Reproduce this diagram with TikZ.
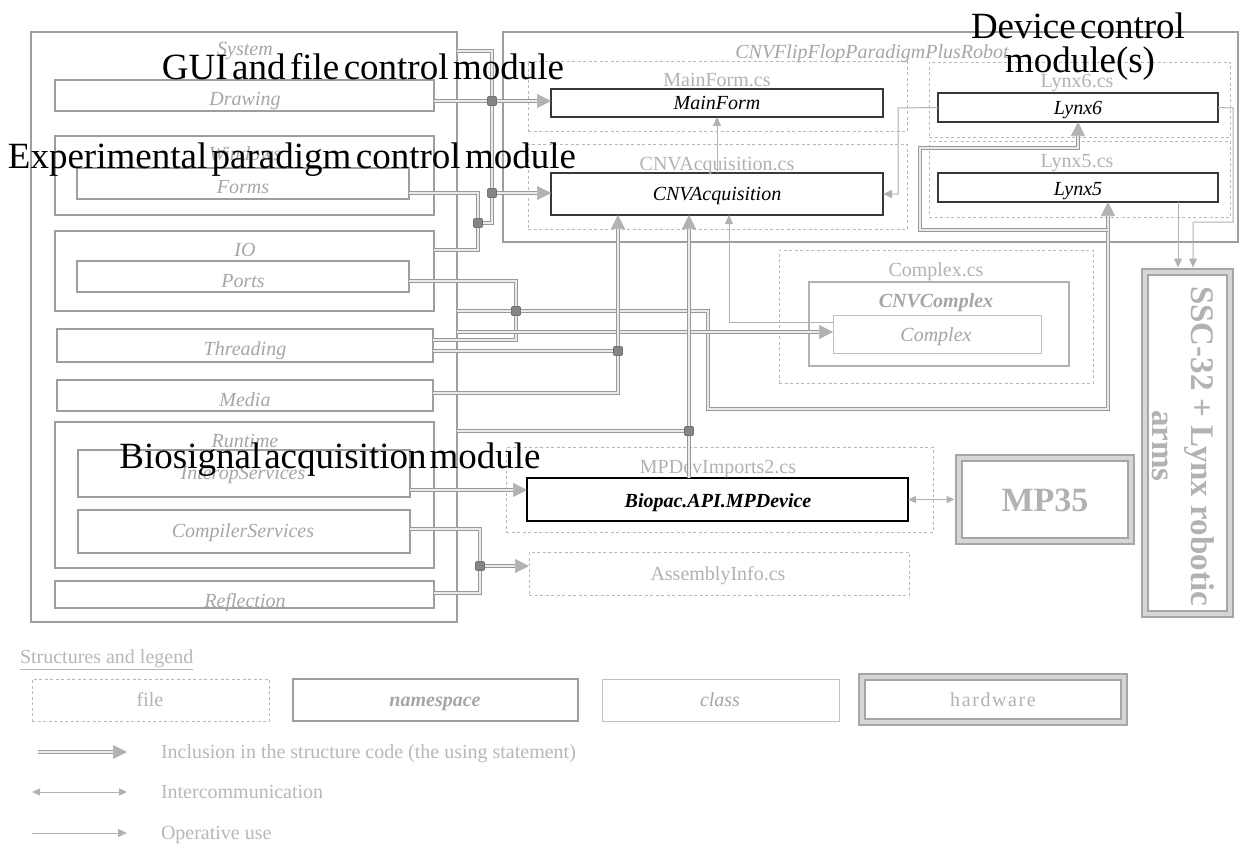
\documentclass[tikz,border=0pt]{standalone}
\usepackage{fontspec}
\setmainfont{Liberation Serif}
\usetikzlibrary{arrows.meta,calc}
\newcommand\mkbox[6]{\node[#1, anchor=north west, minimum width={#5-#3}, minimum height={#6-#4}] (#2) at (#3,#4) {};}
\begin{document}
\begin{tikzpicture}[x=1pt,y=-1pt,
  every node/.style={inner sep=0pt, outer sep=0pt},
  ns/.style={draw=black!38, line width=1.3pt},
  nsl/.style={draw=black!30, line width=1.2pt},
  fil/.style={draw=black!28, line width=0.9pt, dash pattern=on 3pt off 2.5pt},
  cls/.style={draw=black!25, line width=1pt},
  clb/.style={draw=black!78, line width=1.1pt},
  mpd/.style={draw=black, line width=2.2pt},
  hw/.style={draw=black!35, line width=2.6pt, double=black!16, double distance=3.2pt},
  incl/.style={draw=black!40, line width=0.7pt, double=black!8, double distance=2.3pt},
  inclA/.style={incl, -{Triangle[length=14pt,width=14pt,color=black!30,fill=black!30]}},
  oper/.style={draw=black!30, line width=1pt, -{Triangle[length=9pt,width=8pt]}},
  comm/.style={draw=black!30, line width=1pt, {Triangle[length=8pt,width=7pt]}-{Triangle[length=8pt,width=7pt]}},
  jn/.style={fill=black!48, draw=black!55, line width=0.6pt, minimum size=9pt, rounded corners=1pt},
  lb/.style={anchor=base, yshift=-7pt},
  lab/.style={lb, text=black!35, font=\fontsize{20}{22}\selectfont\itshape},
  labb/.style={lb, text=black!35, font=\fontsize{20}{22}\selectfont\bfseries\itshape},
  flab/.style={lb, text=black!30, font=\fontsize{20}{22}\selectfont},
  clab/.style={lb, text=black, font=\fontsize{20}{22}\selectfont\itshape},
  big/.style={text=black, font=\fontsize{37}{40}\selectfont},
  legt/.style={text=black!28, font=\fontsize{20}{22}\selectfont}
]
\useasboundingbox (0,0) rectangle (1241,848);
\fill[white] (0,0) rectangle (1241,848);

% ---- left namespaces
\mkbox{ns}{system}{31}{32}{457}{622}
\mkbox{ns}{drawing}{55}{80}{434}{111}
\mkbox{ns}{windows}{55}{136}{434}{215}
\mkbox{ns}{forms}{77}{168}{409}{199}
\mkbox{ns}{io}{55}{231}{434}{311}
\mkbox{ns}{ports}{77}{261}{409}{292}
\mkbox{ns}{threading}{57}{329}{433}{362}
\mkbox{ns}{media}{57}{380}{433}{411}
\mkbox{ns}{runtime}{55}{422}{434}{568}
\mkbox{ns}{interop}{78}{450}{410}{497}
\mkbox{ns}{compiler}{78}{510}{410}{553}
\mkbox{ns}{reflection}{55}{581}{434}{608}

\node[lab] (lsystem) at (245,49) {System};
\node[lab] (ldrawing) at (245,99) {Drawing};
\node[lab] (lwindows) at (245,153) {Windows};
\node[lab] (lforms) at (243,186) {Forms};
\node[lab] (lio) at (245,249) {IO};
\node[lab] (lports) at (243,280) {Ports};
\node[lab] (lthreading) at (245,348) {Threading};
\node[lab] (lmedia) at (245,399) {Media};
\node[lab] (lruntime) at (245,440) {Runtime};
\node[lab] (linterop) at (243,472) {InteropServices};
\node[lab] (lcompiler) at (243,530) {CompilerServices};
\node[lab] (lreflection) at (245,600) {Reflection};

% ---- right side
\mkbox{ns}{robot}{503}{32}{1238}{242}
\mkbox{fil}{mainformcs}{528}{61}{907}{131}
\mkbox{clb}{mainform}{551}{89}{883}{117}
\mkbox{fil}{cnvacqcs}{528}{144}{907}{229}
\mkbox{clb}{cnvacq}{551}{173}{883}{215}
\mkbox{fil}{lynxsixcs}{929}{62}{1230}{137}
\mkbox{clb}{lynxsix}{938}{93}{1218}{122}
\mkbox{fil}{lynxfivecs}{929}{141}{1230}{217}
\mkbox{clb}{lynxfive}{938}{173}{1218}{202}
\mkbox{fil}{complexcs}{779}{250}{1093}{383}
\mkbox{nsl}{cnvcomplex}{809}{282}{1069}{366}
\mkbox{cls}{complex}{833}{315}{1041}{353}
\mkbox{fil}{mpdevcs}{506}{447}{933}{532}
\mkbox{mpd}{mpdev}{527}{478}{908}{521}
\mkbox{fil}{asmcs}{529}{552}{909}{595}
\mkbox{hw}{mpff}{959}{458}{1131}{541}
\mkbox{hw}{ssc}{1145}{272}{1230}{614}

\node[lab] (lrobot) at (872,52) {CNVFlipFlopParadigmPlusRobot};
\node[flab] (lmainformcs) at (717,80) {MainForm.cs};
\node[clab] (lmainform) at (717,103) {MainForm};
\node[flab] (lcnvacqcs) at (717,163) {CNVAcquisition.cs};
\node[clab] (lcnvacq) at (717,193) {CNVAcquisition};
\node[flab] (llynxsixcs) at (1077,81) {Lynx6.cs};
\node[clab] (llynxsix) at (1078,108) {Lynx6};
\node[flab] (llynxfivecs) at (1077,160) {Lynx5.cs};
\node[clab] (llynxfive) at (1078,188) {Lynx5};
\node[flab] (lcomplexcs) at (936,269) {Complex.cs};
\node[labb] (lcnvcomplex) at (936,300) {CNVComplex};
\node[lab] (lcomplex) at (936,334) {Complex};
\node[flab] (lmpdevcs) at (718,466) {MPDevImports2.cs};
\node[lb, text=black, font=\fontsize{20}{22}\selectfont\bfseries\itshape] (lmpdev) at (718,500) {Biopac.API.MPDevice};
\node[flab] (lasmcs) at (718,573) {AssemblyInfo.cs};
\node[text=black!30, font=\fontsize{34}{38}\selectfont\bfseries] (lmpff) at (1045,500) {MP35};
\node[text=black!30, font=\fontsize{33}{39}\selectfont\bfseries, rotate=-90, align=center] (lssc) at (1183,446) {SSC-32 + Lynx robotic\\arms};

% ---- coordinates
\coordinate (cA) at (492,101);
\coordinate (cB) at (492,193);
\coordinate (cBt) at (492,51);
\coordinate (cCt) at (492,223);
\coordinate (cC) at (478,223);
\coordinate (cIO) at (478,250);
\coordinate (cD) at (516,311);
\coordinate (cP1) at (516,281);
\coordinate (cP2) at (516,340);
\coordinate (cM1) at (708,311);
\coordinate (cM2) at (708,409);
\coordinate (cM3) at (1108,409);
\coordinate (cL1) at (1108,230);
\coordinate (cL2) at (920,230);
\coordinate (cL3) at (920,148);
\coordinate (cX) at (0,332);
\coordinate (cE) at (618,351);
\coordinate (cMe) at (618,393);
\coordinate (cF) at (689,431);
\coordinate (cI) at (0,490);
\coordinate (cK1) at (480,529);
\coordinate (cK2) at (480,593);
\coordinate (cG) at (480,566);
\coordinate (cO1) at (898,108);
\coordinate (cO2) at (729,322);
\coordinate (cO3) at (1178,0);
\coordinate (cR1) at (1233,108);
\coordinate (cR2) at (1233,222);
\coordinate (cR3) at (1193,222);

% ---- inclusion (double) connectors
\draw[incl] (system.east |- cBt) -- (cBt) -- (cCt) -- (cC);
\draw[inclA] (drawing.east |- cA) -- (mainform.west |- cA);
\draw[incl] (forms.east |- cB) -| (cC);
\draw[incl] (io.east |- cIO) -- (cIO) -- (cC);
\draw[inclA] (cB) -- (cnvacq.west |- cB);
\draw[incl] (ports.east |- cP1) -- (cP1) -- (cP2) -- (threading.east |- cP2);
\draw[inclA] (system.east |- cD) -- (cM1) -- (cM2) -- (cM3) -- (cM3 |- lynxfive.south);
\draw[inclA] (cL1) -- (cL2) -- (cL3) -- (cL3 -| lynxsix.south) -- (lynxsix.south);
\draw[inclA] (system.east |- cX) -- (complex.west |- cX);
\draw[incl] (threading.east |- cE) -- (cE);
\draw[inclA] (media.east |- cMe) -- (cMe) -- (cE) -- (cE |- cnvacq.south);
\draw[incl] (system.east |- cF) -- (cF);
\draw[inclA] (cF |- mpdev.north) -- (cF |- cnvacq.south);
\draw[inclA] (interop.east |- cI) -- (mpdev.west |- cI);
\draw[incl] (compiler.east |- cK1) -- (cK1) -- (cK2) -- (reflection.east |- cK2);
\draw[inclA] (cG) -- (asmcs.west |- cG);

% ---- operative use / intercommunication
\draw[oper] (cnvacq.north) -- (mainform.south);
\draw[oper] (lynxsix.west) -- (cO1) |- (cnvacq.east);
\draw[oper] (complex.west |- cO2) -- (cO2) -- (cO2 |- cnvacq.south);
\draw[oper, shorten >=4.5pt] (cO3 |- lynxfive.south) -- (cO3 |- ssc.north);
\draw[oper, shorten >=4.5pt] (lynxsix.east) -- (cR1) -- (cR2) -- (cR3) -- (cR3 |- ssc.north);
\draw[comm, shorten >=4.5pt] (mpdev.east) -- (mpff.west);

% ---- junctions
\foreach \c/\n in {cA/jA, cB/jB, cC/jC, cD/jD, cE/jE, cF/jF, cG/jG}
  \node[jn] (\n) at (\c) {};

% ---- module labels
\node[big, anchor=base] (tgui) at (363,80) {\spaceskip=0.12em GUI and file control module};
\node[big, anchor=base] (texp) at (292,168) {\spaceskip=0.12em Experimental paradigm control module};
\node[big, anchor=base] (tbio) at (330,468) {\spaceskip=0.08em Biosignal acquisition module};
\node[big, anchor=base] (tdev) at (1078,39) {\spaceskip=0.12em Device control};
\node[big, anchor=base] (tdevb) at (1080,73) {module(s)};

% ---- legend
\node[legt, anchor=base west] (lgtitle) at (20,663) {\underline{Structures and legend}};
\mkbox{fil}{lgfile}{32}{679}{269}{721}
\mkbox{ns}{lgns}{293}{679}{578}{721}
\mkbox{cls}{lgcls}{602}{679}{839}{721}
\mkbox{hw}{lghw}{862}{677}{1124}{722}
\node[flab] (lgfilet) at (150,699) {file};
\node[labb] (lgnst) at (435,699) {namespace};
\node[lab] (lgclst) at (720,699) {class};
\node[flab, font=\fontsize{20}{22}\selectfont\addfontfeature{LetterSpace=8}] (lghwt) at (993,699) {hardware};

\coordinate (lgAa) at (38,752); \coordinate (lgAb) at (127,752);
\coordinate (lgBa) at (32,792); \coordinate (lgBb) at (127,792);
\coordinate (lgCa) at (32,833); \coordinate (lgCb) at (127,833);
\draw[inclA] (lgAa) -- (lgAb);
\draw[comm] (lgBa) -- (lgBb);
\draw[oper] (lgCa) -- (lgCb);
\node[legt, anchor=base west] (lgAt) at (161,758) {Inclusion in the structure code (the using statement)};
\node[legt, anchor=base west] (lgBt) at (161,798) {Intercommunication};
\node[legt, anchor=base west] (lgCt) at (161,839) {Operative use};
\end{tikzpicture}
\end{document}
